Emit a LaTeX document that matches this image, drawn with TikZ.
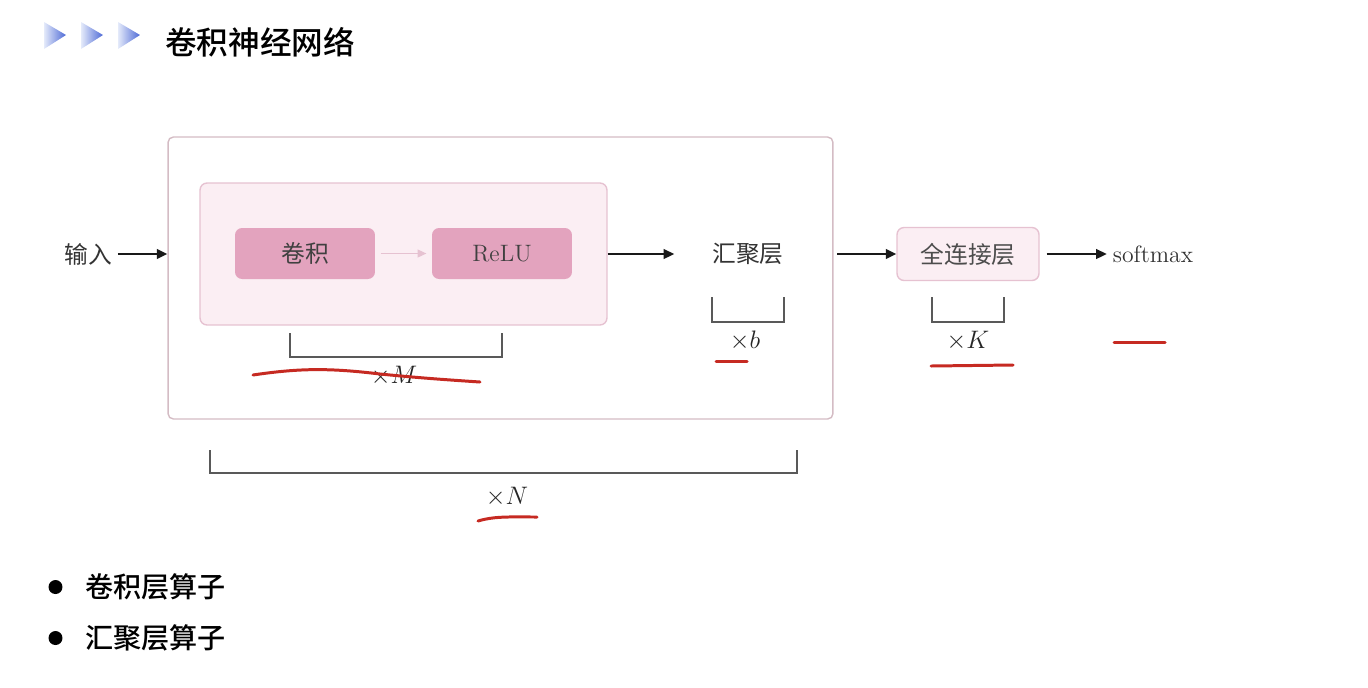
\documentclass[tikz,border=0pt]{standalone}
\usepackage{fontspec}
\newfontfamily\cjk{Noto Sans CJK SC}
\newfontfamily\cjkmid{Noto Sans CJK SC}[UprightFont={* Medium}]
\usepackage{xcolor}
\definecolor{blockpink}{HTML}{E3A3BE}
\definecolor{palepink}{HTML}{FBEEF3}
\definecolor{linepink}{HTML}{E6C2D1}
\definecolor{framegray}{HTML}{D4BCC4}
\definecolor{inkred}{HTML}{C62A22}
\definecolor{chevlight}{HTML}{E4EAFA}
\definecolor{chevblue}{HTML}{4E6AD6}
\usepackage{tikz}
\usetikzlibrary{
  arrows.meta,
  positioning
}
\newcommand{\dgfont}{\fontsize{13.5pt}{16pt}\selectfont}

\begin{document}
\begin{tikzpicture}[
  x=0.02cm, y=-0.02cm,
  frame/.style={rectangle, draw=framegray, line width=0.8pt, fill=white, rounded corners=3pt, minimum width=13.3cm, minimum height=5.64cm},
  inner/.style={rectangle, draw=linepink, line width=0.8pt, fill=palepink, rounded corners=4pt, minimum width=8.14cm, minimum height=2.84cm},
  block/.style={rectangle, fill=blockpink, rounded corners=4pt, minimum width=2.8cm, minimum height=1.02cm, font=\dgfont, text=black!75},
  fcblock/.style={rectangle, draw=linepink, line width=0.8pt, fill=palepink, rounded corners=4pt, minimum width=2.84cm, minimum height=1.06cm, font=\dgfont, text=black!70},
  word/.style={font=\dgfont, text=black!80},
  times/.style={font=\dgfont, text=black!85},
  edge/.style={-{Triangle[length=6pt,width=5.5pt]}, line width=1.1pt, black!90},
  softedge/.style={-{Triangle[length=5pt,width=4.5pt]}, line width=0.7pt, linepink},
  bracket/.style={line width=0.9pt, black!65},
  handmark/.style={line width=1.7pt, inkred, line cap=round}
]
  \useasboundingbox (0,0) rectangle (1368,687);

  % Title
  \foreach \cx in {44,81,118}
    \shade[left color=chevlight, right color=chevblue] (\cx,22) -- (\cx+22,35) -- (\cx,49) -- cycle;
  \node[anchor=west, inner sep=0pt, font=\cjkmid\fontsize{18pt}{20pt}\selectfont] (title) at (165,42) {卷积神经网络};

  % Boxes
  \node[frame] (outer) at (500.5,278) {};
  \node[inner] (conv) at (403.5,254) {};
  \node[block] (juanji) at (305,253.5) {\cjk 卷积};
  \node[block] (relu) at (502,253.5) {ReLU};
  \node[fcblock] (fc) at (968,254) {\cjk 全连接层};

  % Texts
  \node[word] (input) at (88,254) {\cjk 输入};
  \node[word] (pool) at (748,254) {\cjk 汇聚层};
  \node[word] (softmax) at (1153,254) {softmax};

  % Edges
  \draw[edge] (input.east) -- (outer.west |- input.east);
  \draw[softedge, shorten <=3pt, shorten >=3pt] (juanji) -- (relu);
  \draw[edge, shorten >=0.64cm] (conv.east) -- (pool.west |- conv.east);
  \draw[edge, shorten <=2pt] (outer.east |- fc.west) -- (fc.west);
  \draw[edge, shorten <=4pt] (fc.east) -- (softmax.west |- fc.east);

  % Repeat brackets
  \draw[bracket] (290,333) -- (290,357) -- (502,357) -- (502,333);
  \node[times] (mulM) at (394,376) {$\times M$};
  \draw[bracket] (712,297) -- (712,322) -- (784,322) -- (784,297);
  \node[times] (mulb) at (745,341) {$\times b$};
  \draw[bracket] (932,297) -- (932,322) -- (1004,322) -- (1004,297);
  \node[times] (mulK) at (968,341) {$\times K$};
  \draw[bracket] (210,450) -- (210,473) -- (797,473) -- (797,450);
  \node[times] (mulN) at (507,497) {$\times N$};

  % Hand marks
  \draw[handmark] (253,375) .. controls (300,368) and (330,368) .. (380,374) .. controls (420,378) and (450,380) .. (480,382);
  \draw[handmark] (716,361) -- (747,361);
  \draw[handmark] (931,366) -- (1013,365);
  \draw[handmark] (1114,342) -- (1165,342);
  \draw[handmark] (478,521) .. controls (495,516) and (510,517) .. (537,517);

  % Bullets
  \fill[black] (55.5,587) circle[radius=0.14cm];
  \fill[black] (55.5,638) circle[radius=0.14cm];
  \node[anchor=west, inner sep=0pt, font=\cjkmid\fontsize{16pt}{18pt}\selectfont] (opconv) at (85,587) {卷积层算子};
  \node[anchor=west, inner sep=0pt, font=\cjkmid\fontsize{16pt}{18pt}\selectfont] (oppool) at (85,638) {汇聚层算子};
\end{tikzpicture}
\end{document}
